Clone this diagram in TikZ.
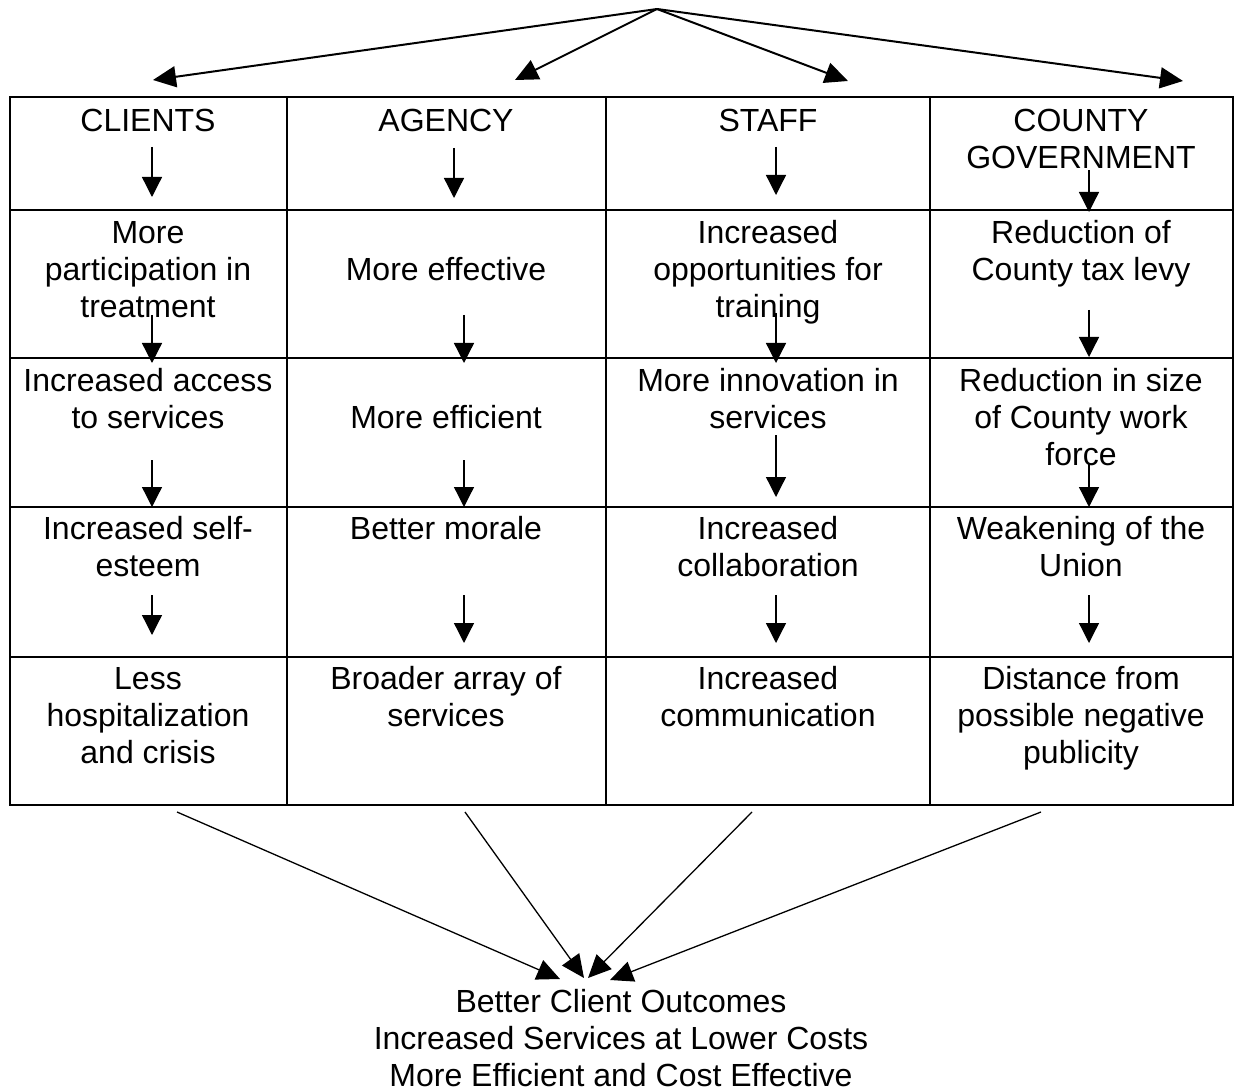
\documentclass[tikz,border=0pt]{standalone}
\usepackage{fontspec}
\setmainfont{Liberation Sans}
\usetikzlibrary{arrows.meta}
\tikzset{
  cell/.style={anchor=north, align=center, inner sep=0pt, font=\fontsize{32}{37}\selectfont},
  grid/.style={line width=2pt},
  down/.style={line width=1.3pt, -{Triangle[length=20pt,width=20pt]}},
  fan/.style={line width=2pt, -{Triangle[length=23pt,width=21pt]}},
  merge/.style={line width=1.3pt, -{Triangle[length=23pt,width=21pt]}}
}
\begin{document}
\begin{tikzpicture}[x=1pt,y=-1pt]
\useasboundingbox (0,0) rectangle (1235,1091);
% table grid
\draw[grid] (10,97) rectangle (1233,805);
\foreach \yy in {210,358,507,657} \draw[grid] (10,\yy) -- (1233,\yy);
\foreach \xx in {287,606,930} \draw[grid] (\xx,97) -- (\xx,805);

% header
\node[cell] (h1) at (148,105.6) {\strut CLIENTS};
\node[cell] (h2) at (446,105.6) {\strut AGENCY};
\node[cell] (h3) at (768,105.6) {\strut STAFF};
\node[cell] (h4) at (1081,105.6) {\strut COUNTY\\GOVERNMENT};

% row 2
\node[cell] (c12) at (148,217.6) {\strut More\\participation in\\treatment};
\node[cell] (c22) at (446,254.6) {\strut More effective};
\node[cell] (c32) at (768,217.6) {\strut Increased\\opportunities for\\training};
\node[cell] (c42) at (1081,217.6) {\strut Reduction of\\County tax levy};

% row 3
\node[cell] (c13) at (148,365.6) {\strut Increased access\\to services};
\node[cell] (c23) at (446,402.6) {\strut More efficient};
\node[cell] (c33) at (768,365.6) {\strut More innovation in\\services};
\node[cell] (c43) at (1081,365.6) {\strut Reduction in size\\of County work\\force};

% row 4
\node[cell] (c14) at (148,513.6) {\strut Increased self-\\esteem};
\node[cell] (c24) at (446,513.6) {\strut Better morale};
\node[cell] (c34) at (768,513.6) {\strut Increased\\collaboration};
\node[cell] (c44) at (1081,513.6) {\strut Weakening of the\\Union};

% row 5
\node[cell] (c15) at (148,663.6) {\strut Less\\hospitalization\\and crisis};
\node[cell] (c25) at (446,663.6) {\strut Broader array of\\services};
\node[cell] (c35) at (768,663.6) {\strut Increased\\communication};
\node[cell] (c45) at (1081,663.6) {\strut Distance from\\possible negative\\publicity};

% outcome
\node[cell] (out) at (621,986.6) {\strut Better Client Outcomes\\Increased Services at Lower Costs\\More Efficient and Cost Effective};

% top fan
\coordinate (apex) at (657,9);
\coordinate (t1) at (153,80);
\coordinate (t2) at (515,80);
\coordinate (t3) at (848,81);
\coordinate (t4) at (1183,81);
\foreach \t in {t1,t2,t3,t4} \draw[fan] (apex) -- (\t);

% vertical arrows: header
\coordinate (a1s) at (152,147); \coordinate (a1e) at (152,197);
\coordinate (a2s) at (454,148); \coordinate (a2e) at (454,198);
\coordinate (a3s) at (776,147); \coordinate (a3e) at (776,195);
\coordinate (a4s) at (1089,170); \coordinate (a4e) at (1089,212);
% row 2
\coordinate (b1s) at (152,315); \coordinate (b1e) at (152,363);
\coordinate (b2s) at (464,315); \coordinate (b2e) at (464,363);
\coordinate (b3s) at (776,313); \coordinate (b3e) at (776,363);
\coordinate (b4s) at (1089,310); \coordinate (b4e) at (1089,357);
% row 3
\coordinate (d1s) at (152,460); \coordinate (d1e) at (152,507);
\coordinate (d2s) at (464,460); \coordinate (d2e) at (464,507);
\coordinate (d3s) at (776,435); \coordinate (d3e) at (776,497);
\coordinate (d4s) at (1089,463); \coordinate (d4e) at (1089,507);
% row 4
\coordinate (e1s) at (152,595); \coordinate (e1e) at (152,635);
\coordinate (e2s) at (464,595); \coordinate (e2e) at (464,643);
\coordinate (e3s) at (776,595); \coordinate (e3e) at (776,643);
\coordinate (e4s) at (1089,595); \coordinate (e4e) at (1089,643);
\foreach \r in {a,b,d,e}
  \foreach \c in {1,2,3,4}
    \draw[down] (\r\c s) -- (\r\c e);

% bottom merge
\coordinate (m1) at (177,812); \coordinate (n1) at (560,979);
\coordinate (m2) at (465,812); \coordinate (n2) at (584,978);
\coordinate (m3) at (752,812); \coordinate (n3) at (588,978);
\coordinate (m4) at (1041,812); \coordinate (n4) at (610,980);
\foreach \i in {1,2,3,4} \draw[merge] (m\i) -- (n\i);
\end{tikzpicture}
\end{document}
